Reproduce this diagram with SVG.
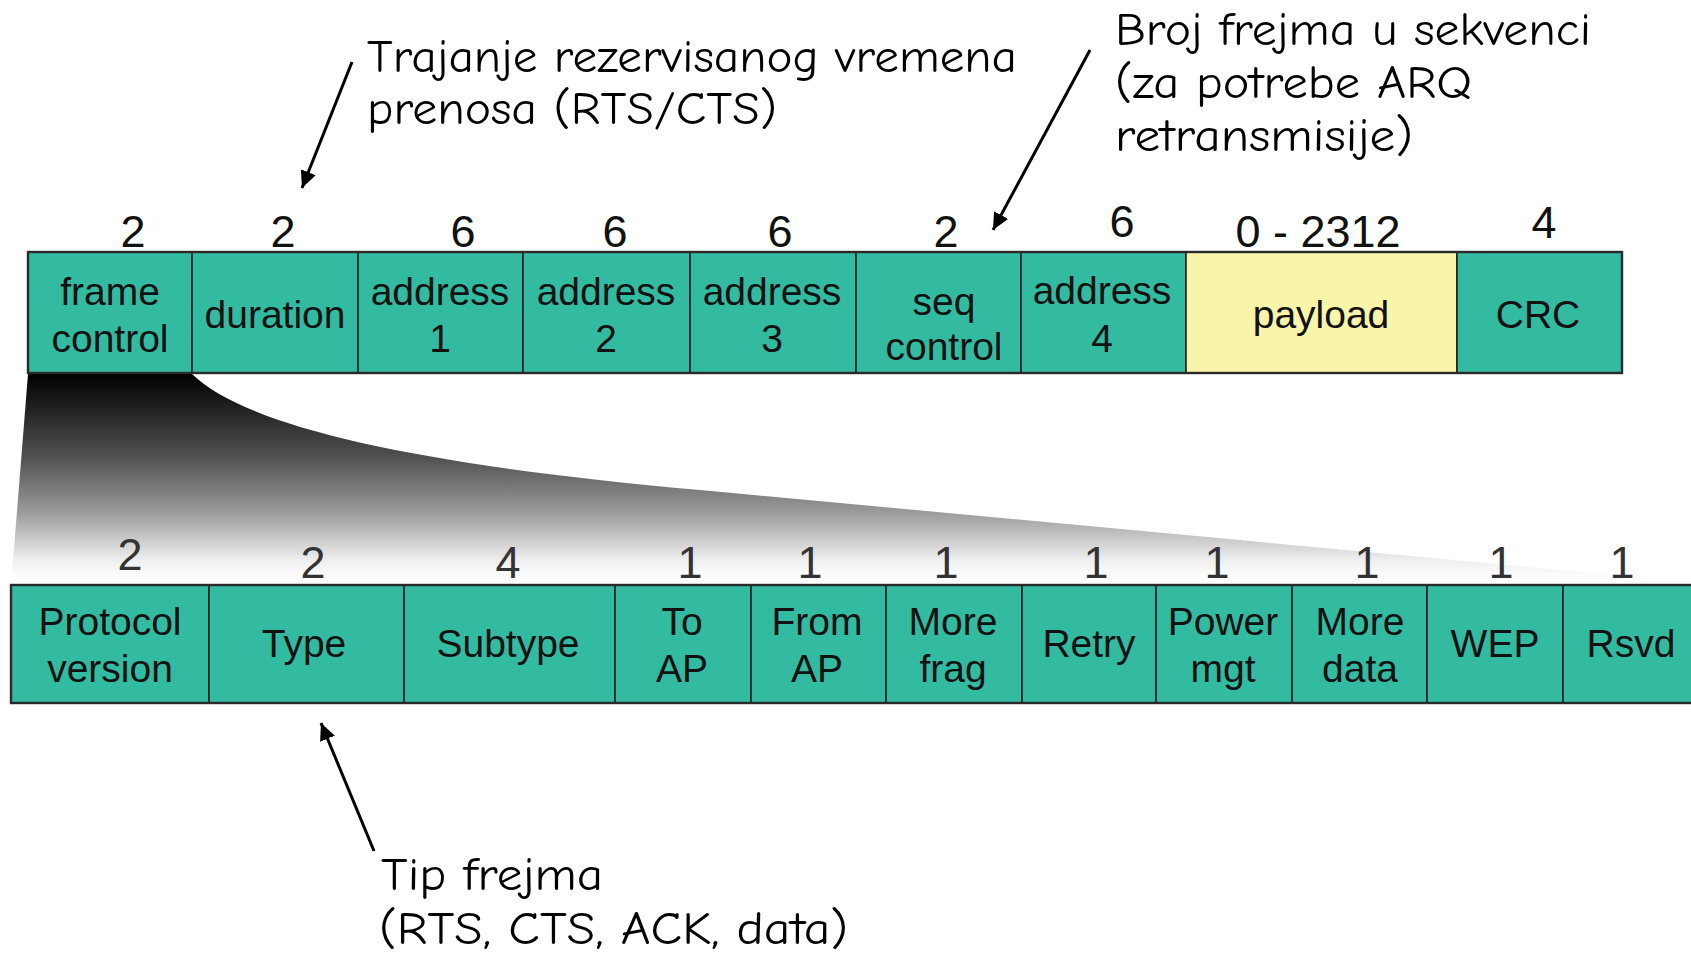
<svg xmlns="http://www.w3.org/2000/svg" width="1691" height="955" viewBox="0 0 1691 955">
  <style>
    .cell { fill: #33bba1; stroke: #1e1e1e; stroke-width: 1.6; }
    .pay { fill: #f8f4a9; stroke: #1e1e1e; stroke-width: 1.6; }
    .frame { fill: none; stroke: #2a2a2a; stroke-width: 2.4; }
    .lbl { font-family: "Liberation Sans", Arial, sans-serif; font-size: 39px; fill: #111; text-anchor: middle; }
    .num { font-family: "Liberation Sans", Arial, sans-serif; font-size: 45px; fill: #111; text-anchor: middle; }
    .num2 { font-family: "Liberation Sans", Arial, sans-serif; font-size: 45px; fill: #333; text-anchor: middle; }
    .note { font-family: "Comic Sans MS", "Comic Neue", "DejaVu Sans", sans-serif; font-size: 47px; fill: #000; }
    .arrow { stroke: #000; stroke-width: 3; fill: none; marker-end: url(#head); }
  </style>
  <defs>
    <linearGradient id="fade" gradientUnits="userSpaceOnUse" x1="0" y1="374" x2="0" y2="585">
      <stop offset="0" stop-color="#000"/>
      <stop offset="0.08" stop-color="#111"/>
      <stop offset="0.4" stop-color="#545151"/>
      <stop offset="0.65" stop-color="#999"/>
      <stop offset="0.88" stop-color="#eee"/>
      <stop offset="0.97" stop-color="#fff"/>
    </linearGradient>
    <marker id="head" markerUnits="userSpaceOnUse" markerWidth="18" markerHeight="16" refX="17" refY="8" orient="auto">
      <path d="M0,0 L17,8 L0,16 z" fill="#000"/>
    </marker>
  </defs>

  <!-- zoom wedge from the frame control field down to its bit breakdown -->
  <path id="zoom-wedge" d="M28,374 L192,374 C250,430 430,466 700,490 L1691,582 L1691,586 L11,586 Z" fill="url(#fade)"/>

  <!-- MAC frame fields -->
  <g id="mac-frame">
    <g id="f-frame-control">
      <rect class="cell" x="28" y="252" width="164" height="121"/>
      <text class="num" x="133" y="247">2</text>
      <text class="lbl" x="110" y="305">frame</text>
      <text class="lbl" x="110" y="352">control</text>
    </g>
    <g id="f-duration">
      <rect class="cell" x="192" y="252" width="166" height="121"/>
      <text class="num" x="283" y="247">2</text>
      <text class="lbl" x="275" y="328">duration</text>
    </g>
    <g id="f-address1">
      <rect class="cell" x="358" y="252" width="165" height="121"/>
      <text class="num" x="463" y="247">6</text>
      <text class="lbl" x="440" y="305">address</text>
      <text class="lbl" x="440" y="352">1</text>
    </g>
    <g id="f-address2">
      <rect class="cell" x="523" y="252" width="167" height="121"/>
      <text class="num" x="615" y="247">6</text>
      <text class="lbl" x="606" y="305">address</text>
      <text class="lbl" x="606" y="352">2</text>
    </g>
    <g id="f-address3">
      <rect class="cell" x="690" y="252" width="166" height="121"/>
      <text class="num" x="780" y="247">6</text>
      <text class="lbl" x="772" y="305">address</text>
      <text class="lbl" x="772" y="352">3</text>
    </g>
    <g id="f-seq-control">
      <rect class="cell" x="856" y="252" width="165" height="121"/>
      <text class="num" x="946" y="247">2</text>
      <text class="lbl" x="944" y="315">seq</text>
      <text class="lbl" x="944" y="360">control</text>
    </g>
    <g id="f-address4">
      <rect class="cell" x="1021" y="252" width="165" height="121"/>
      <text class="num" x="1122" y="237">6</text>
      <text class="lbl" x="1102" y="304">address</text>
      <text class="lbl" x="1102" y="352">4</text>
    </g>
    <g id="f-payload">
      <rect class="pay" x="1186" y="252" width="271" height="121"/>
      <text class="num" x="1318" y="247">0 - 2312</text>
      <text class="lbl" x="1321" y="328">payload</text>
    </g>
    <g id="f-crc">
      <rect class="cell" x="1457" y="252" width="165" height="121"/>
      <text class="num" x="1544" y="238">4</text>
      <text class="lbl" x="1538" y="328">CRC</text>
    </g>
    <rect class="frame" x="28" y="252" width="1594" height="121"/>
  </g>

  <!-- frame control sub-fields -->
  <g id="fc-bits">
    <g id="b-protocol">
      <rect class="cell" x="11" y="585" width="198" height="118"/>
      <text class="num2" x="130" y="570">2</text>
      <text class="lbl" x="110" y="635">Protocol</text>
      <text class="lbl" x="110" y="682">version</text>
    </g>
    <g id="b-type">
      <rect class="cell" x="209" y="585" width="195" height="118"/>
      <text class="num2" x="313" y="578">2</text>
      <text class="lbl" x="304" y="657">Type</text>
    </g>
    <g id="b-subtype">
      <rect class="cell" x="404" y="585" width="211" height="118"/>
      <text class="num2" x="508" y="578">4</text>
      <text class="lbl" x="508" y="657">Subtype</text>
    </g>
    <g id="b-to-ap">
      <rect class="cell" x="615" y="585" width="136" height="118"/>
      <text class="num2" x="690" y="578">1</text>
      <text class="lbl" x="682" y="635">To</text>
      <text class="lbl" x="682" y="682">AP</text>
    </g>
    <g id="b-from-ap">
      <rect class="cell" x="751" y="585" width="135" height="118"/>
      <text class="num2" x="810" y="578">1</text>
      <text class="lbl" x="817" y="635">From</text>
      <text class="lbl" x="817" y="682">AP</text>
    </g>
    <g id="b-more-frag">
      <rect class="cell" x="886" y="585" width="136" height="118"/>
      <text class="num2" x="946" y="578">1</text>
      <text class="lbl" x="953" y="635">More</text>
      <text class="lbl" x="953" y="682">frag</text>
    </g>
    <g id="b-retry">
      <rect class="cell" x="1022" y="585" width="134" height="118"/>
      <text class="num2" x="1096" y="578">1</text>
      <text class="lbl" x="1089" y="657">Retry</text>
    </g>
    <g id="b-power">
      <rect class="cell" x="1156" y="585" width="136" height="118"/>
      <text class="num2" x="1217" y="578">1</text>
      <text class="lbl" x="1223" y="635">Power</text>
      <text class="lbl" x="1223" y="682">mgt</text>
    </g>
    <g id="b-more-data">
      <rect class="cell" x="1292" y="585" width="135" height="118"/>
      <text class="num2" x="1367" y="578">1</text>
      <text class="lbl" x="1360" y="635">More</text>
      <text class="lbl" x="1360" y="682">data</text>
    </g>
    <g id="b-wep">
      <rect class="cell" x="1427" y="585" width="136" height="118"/>
      <text class="num2" x="1501" y="578">1</text>
      <text class="lbl" x="1495" y="657">WEP</text>
    </g>
    <g id="b-rsvd">
      <rect class="cell" x="1563" y="585" width="140" height="118"/>
      <text class="num2" x="1622" y="578">1</text>
      <text class="lbl" x="1631" y="657">Rsvd</text>
    </g>
    <rect class="frame" x="11" y="585" width="1692" height="118"/>
  </g>

  <!-- annotations -->
  <g id="note-duration">
    <text class="note" x="367" y="72" textLength="650" lengthAdjust="spacingAndGlyphs">Trajanje rezervisanog vremena</text>
    <text class="note" x="367" y="124" textLength="410" lengthAdjust="spacingAndGlyphs">prenosa (RTS/CTS)</text>
  </g>
  <g id="note-seq">
    <text class="note" x="1115" y="45" textLength="476" lengthAdjust="spacingAndGlyphs">Broj frejma u sekvenci</text>
    <text class="note" x="1115" y="98" textLength="357" lengthAdjust="spacingAndGlyphs">(za potrebe ARQ</text>
    <text class="note" x="1115" y="151" textLength="298" lengthAdjust="spacingAndGlyphs">retransmisije)</text>
  </g>
  <g id="note-type">
    <text class="note" x="381" y="890" textLength="222" lengthAdjust="spacingAndGlyphs">Tip frejma</text>
    <text class="note" x="379" y="944" textLength="469" lengthAdjust="spacingAndGlyphs">(RTS, CTS, ACK, data)</text>
  </g>

  <!-- pointer arrows -->
  <g id="connectors">
    <line class="arrow" x1="352" y1="62" x2="302" y2="188"/>
    <line class="arrow" x1="1090" y1="50" x2="993" y2="230"/>
    <line class="arrow" x1="374" y1="851" x2="321" y2="723"/>
  </g>
</svg>
